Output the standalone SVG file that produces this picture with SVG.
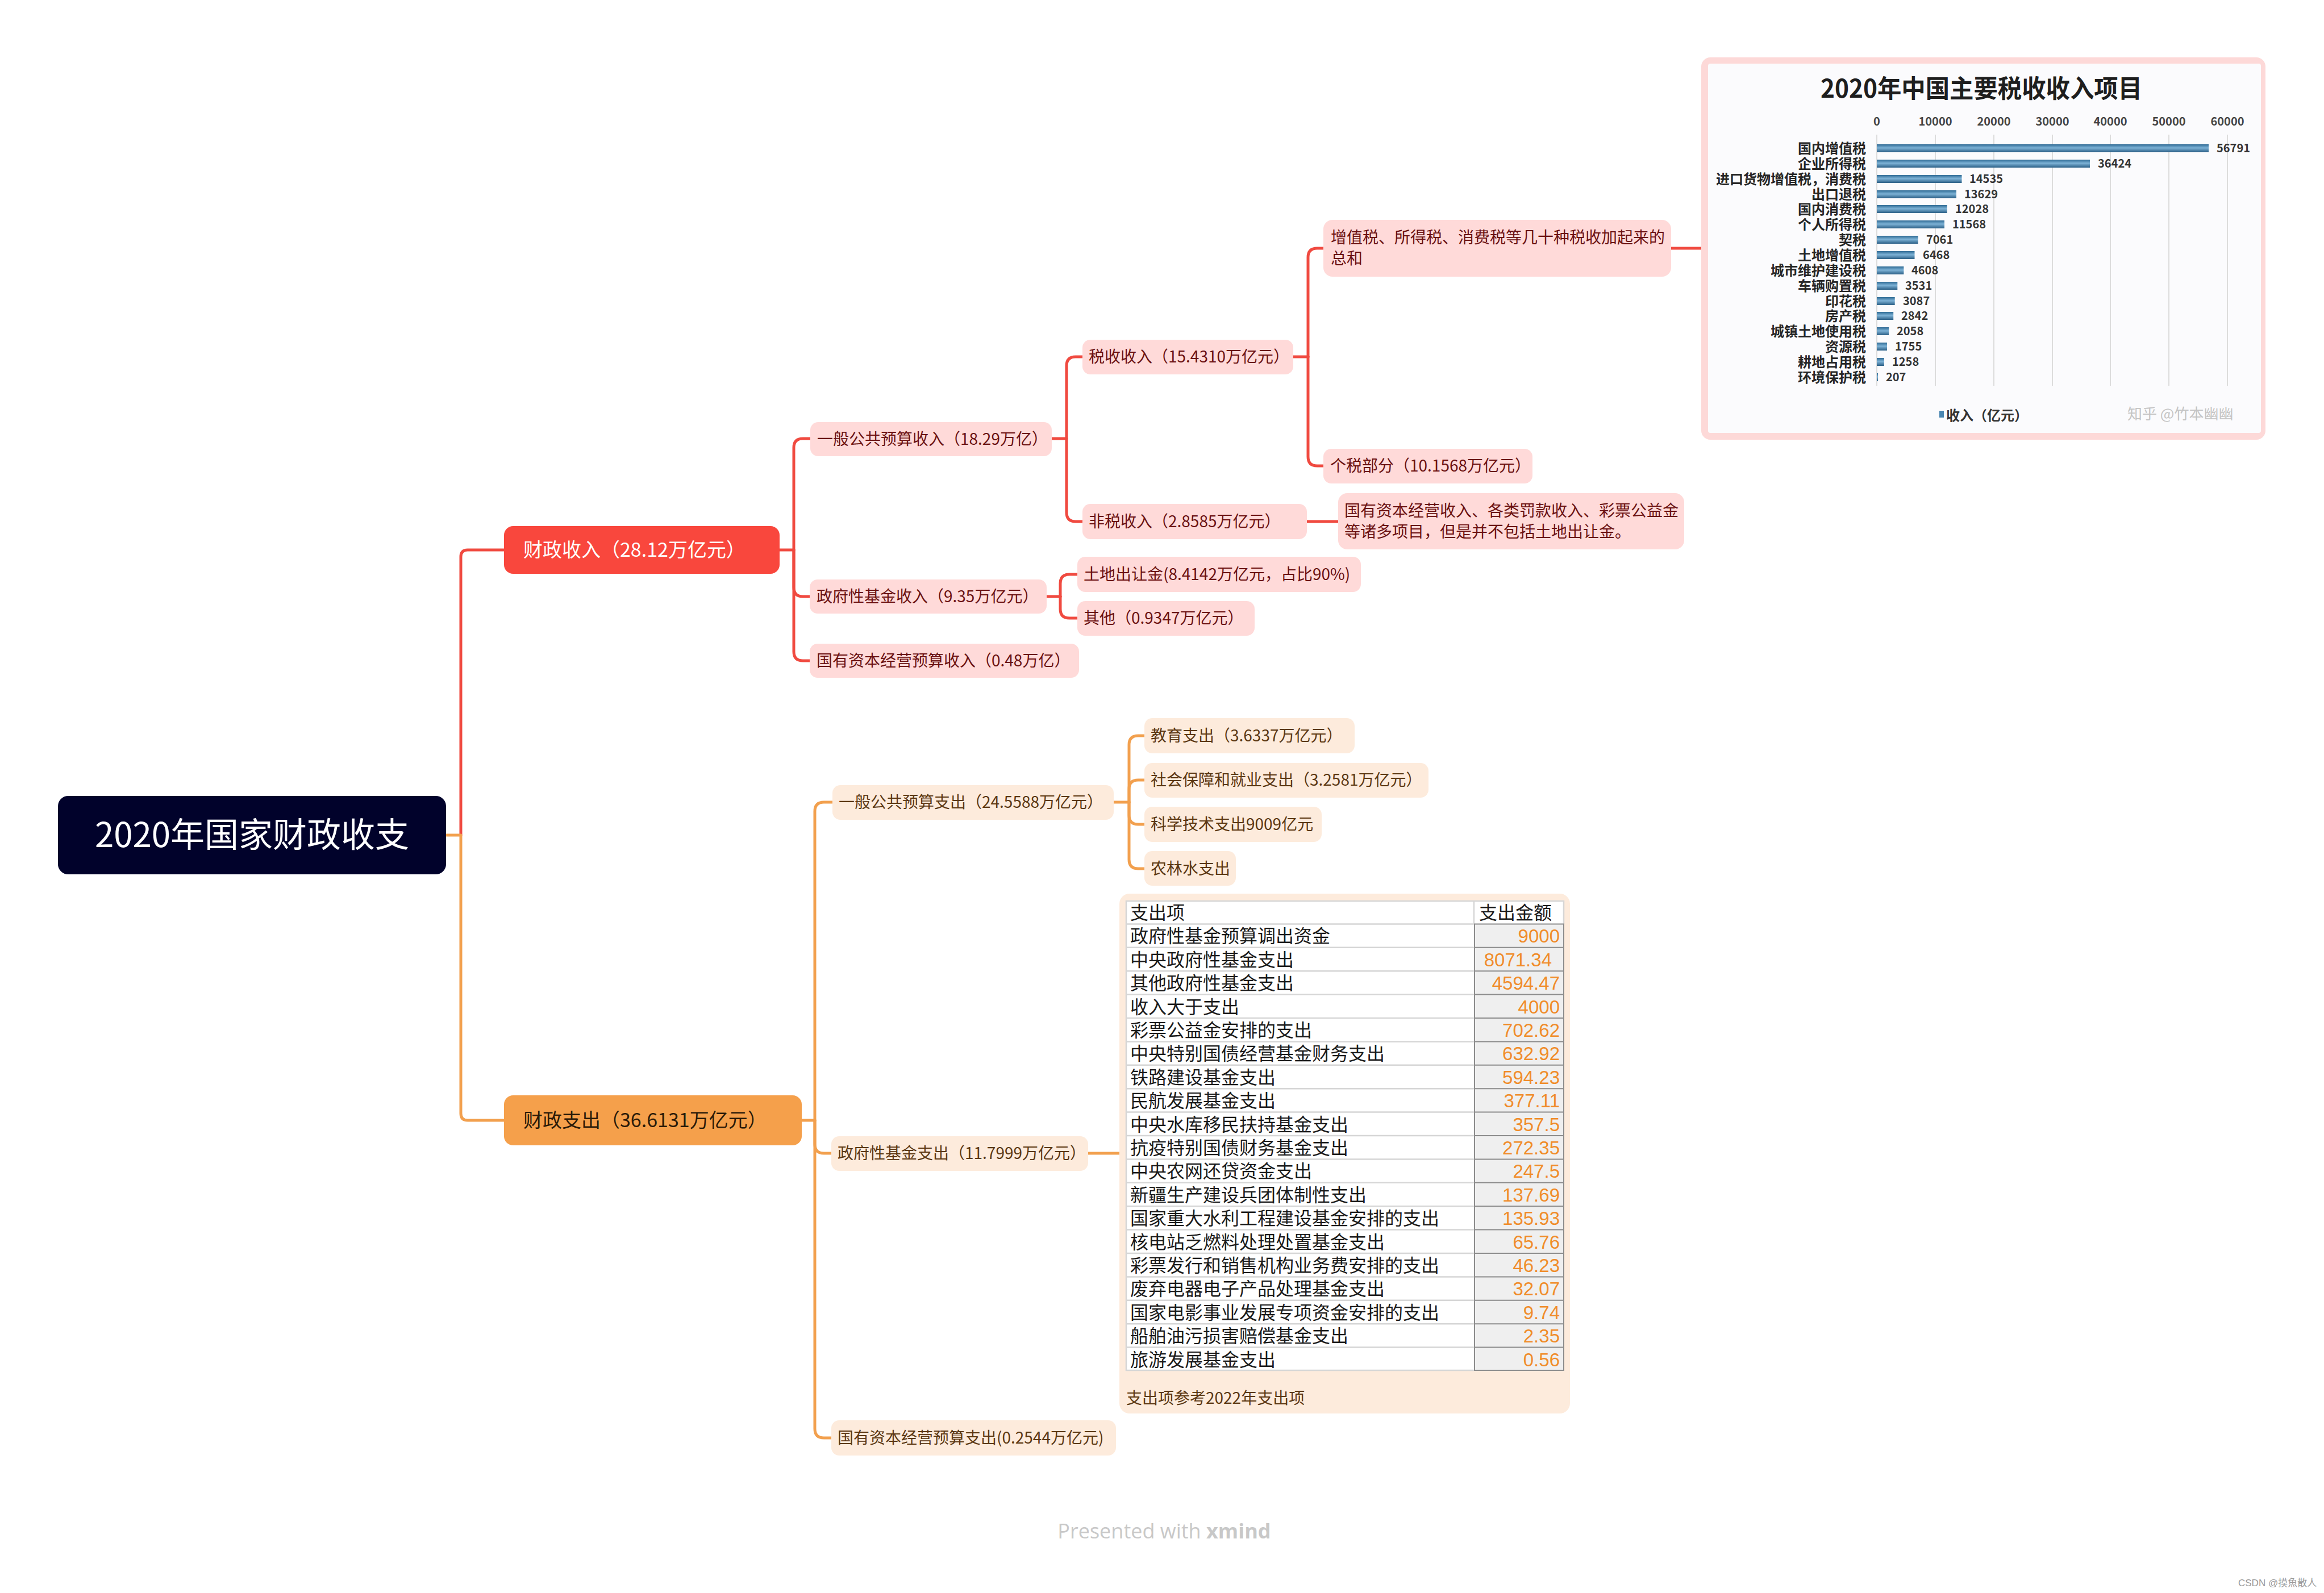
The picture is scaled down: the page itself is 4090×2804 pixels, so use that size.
<svg xmlns="http://www.w3.org/2000/svg" width="4090" height="2804" viewBox="0 0 4090 2804">
<defs>
<style>
.cjk{font-family:"Noto Sans CJK SC","Noto Sans",sans-serif}
.rc{fill:none;stroke:#F04A40;stroke-width:5;stroke-linecap:round;stroke-linejoin:round}
.oc{fill:none;stroke:#F2A04E;stroke-width:5;stroke-linecap:round;stroke-linejoin:round}
.pink{fill:#FFDAD9}
.peach{fill:#FDEBDC}
.tr{font-family:"Noto Sans CJK SC","Noto Sans",sans-serif;font-size:28px;fill:#6B1111}
.to{font-family:"Noto Sans CJK SC","Noto Sans",sans-serif;font-size:28px;fill:#5B3712}
.cl{font-family:"Noto Sans CJK SC",sans-serif;font-size:24px;font-weight:700;fill:#262626;text-anchor:end}
.cv{font-family:"Noto Sans CJK SC",sans-serif;font-size:20px;font-weight:700;fill:#333}
.ax{font-family:"Noto Sans CJK SC",sans-serif;font-size:20px;font-weight:700;fill:#444;text-anchor:middle}
.grid{stroke:#DCDCDC;stroke-width:2}
.bar{fill:url(#barg)}
.tt{font-family:"Noto Sans CJK SC",sans-serif;font-size:32px;fill:#1a1a1a}
.tv{font-family:"Liberation Sans Narrow","Liberation Sans",sans-serif;font-size:33px;fill:#F08C2A;text-anchor:end}
.hl{stroke:#D6D6D6;stroke-width:2.5}
.hd{stroke:#8C8C8C;stroke-width:2}
.wm{font-family:"Open Sans","Liberation Sans",sans-serif;font-size:36px;fill:#C8C8C8}
</style>
<linearGradient id="barg" x1="0" y1="0" x2="0" y2="1">
<stop offset="0" stop-color="#2E6A94"/>
<stop offset="0.45" stop-color="#7DB2D6"/>
<stop offset="1" stop-color="#2B5F86"/>
</linearGradient>
</defs>
<rect x="0" y="0" width="4090" height="2804" fill="#FFFFFF"/>

<g id="connectors">
<path class="rc" d="M811 1470 V980 Q811 968 823 968 H887"/>
<path class="rc" d="M1372 968 H1397"/>
<path class="rc" d="M1397 968 V788 Q1397 772 1413 772 H1426"/>
<path class="rc" d="M1397 968 V1034 Q1397 1050 1413 1050 H1425"/>
<path class="rc" d="M1397 968 V1147 Q1397 1163 1413 1163 H1425"/>
<path class="rc" d="M1851 772 H1877"/>
<path class="rc" d="M1877 772 V644 Q1877 628 1893 628 H1905"/>
<path class="rc" d="M1877 772 V902 Q1877 918 1893 918 H1905"/>
<path class="rc" d="M2276 628 H2302"/>
<path class="rc" d="M2302 628 V453 Q2302 437 2318 437 H2329"/>
<path class="rc" d="M2302 628 V804 Q2302 820 2318 820 H2329"/>
<path class="rc" d="M2300 918 H2355"/>
<path class="rc" d="M2941 437 H2995"/>
<path class="rc" d="M1842 1050 H1866"/>
<path class="rc" d="M1866 1050 V1027 Q1866 1011 1882 1011 H1896"/>
<path class="rc" d="M1866 1050 V1072 Q1866 1088 1882 1088 H1896"/>
<path class="oc" d="M785 1470 H811 V1960 Q811 1972 823 1972 H887"/>
<path class="oc" d="M1411 1972 H1434"/>
<path class="oc" d="M1434 1972 V1428 Q1434 1412 1450 1412 H1465"/>
<path class="oc" d="M1434 1972 V2014 Q1434 2030 1450 2030 H1463"/>
<path class="oc" d="M1434 1972 V2515 Q1434 2531 1450 2531 H1463"/>
<path class="oc" d="M1960 1412 H1987"/>
<path class="oc" d="M1987 1412 V1311 Q1987 1295 2003 1295 H2014"/>
<path class="oc" d="M1987 1412 V1389 Q1987 1373 2003 1373 H2014"/>
<path class="oc" d="M1987 1412 V1435 Q1987 1451 2003 1451 H2014"/>
<path class="oc" d="M1987 1412 V1513 Q1987 1529 2003 1529 H2014"/>
<path class="oc" d="M1915 2030 H1970"/>
</g>

<g id="root">
<rect x="102" y="1401" width="683" height="138" rx="18" fill="#01022B"/>
<text x="443.5" y="1491" class="cjk" font-size="60" fill="#FFFFFF" text-anchor="middle">2020年国家财政收支</text>
</g>

<g id="income">
<rect x="887" y="926" width="485" height="84" rx="16" fill="#F9473D"/>
<text x="921" y="980" class="cjk" font-size="34" fill="#FFFFFF">财政收入（28.12万亿元）</text>
</g>

<g id="expense">
<rect x="887" y="1928" width="524" height="88" rx="16" fill="#F5A04B"/>
<text x="921" y="1984" class="cjk" font-size="34" fill="#2A1A08">财政支出（36.6131万亿元）</text>
</g>

<g id="gen-income">
<rect class="pink" x="1426" y="743" width="425" height="60" rx="14"/>
<text class="tr" x="1438" y="783">一般公共预算收入（18.29万亿）</text>
</g>
<g id="fund-income">
<rect class="pink" x="1425" y="1020" width="417" height="60" rx="14"/>
<text class="tr" x="1437" y="1060">政府性基金收入（9.35万亿元）</text>
</g>
<g id="soe-income">
<rect class="pink" x="1425" y="1133" width="474" height="60" rx="14"/>
<text class="tr" x="1437" y="1173">国有资本经营预算收入（0.48万亿）</text>
</g>
<g id="tax-income">
<rect class="pink" x="1905" y="598" width="371" height="61" rx="14"/>
<text class="tr" x="1916" y="638">税收收入（15.4310万亿元）</text>
</g>
<g id="nontax-income">
<rect class="pink" x="1905" y="887" width="395" height="62" rx="14"/>
<text class="tr" x="1916" y="928">非税收入（2.8585万亿元）</text>
</g>
<g id="tax-sum">
<rect class="pink" x="2329" y="387" width="612" height="100" rx="16"/>
<text class="tr" x="2342" y="428">增值税、所得税、消费税等几十种税收加起来的</text>
<text class="tr" x="2342" y="465">总和</text>
</g>
<g id="personal-tax">
<rect class="pink" x="2329" y="790" width="368" height="61" rx="14"/>
<text class="tr" x="2341" y="830">个税部分（10.1568万亿元）</text>
</g>
<g id="nontax-note">
<rect class="pink" x="2355" y="868" width="609" height="99" rx="16"/>
<text class="tr" x="2366" y="909">国有资本经营收入、各类罚款收入、彩票公益金</text>
<text class="tr" x="2366" y="946">等诸多项目，但是并不包括土地出让金。</text>
</g>
<g id="land">
<rect class="pink" x="1896" y="980" width="499" height="62" rx="14"/>
<text class="tr" x="1907" y="1021">土地出让金(8.4142万亿元，占比90%)</text>
</g>
<g id="other-fund">
<rect class="pink" x="1896" y="1058" width="312" height="61" rx="14"/>
<text class="tr" x="1907" y="1098">其他（0.9347万亿元）</text>
</g>

<g id="tax-chart">
<rect x="2994" y="101" width="993" height="673" rx="16" fill="#FDD9D8"/>
<rect x="3006" y="112" width="973" height="650" rx="4" fill="#FBFBFD"/>
<text x="3204" y="172" class="cjk" font-size="44" font-weight="700" fill="#1E1E1E" textLength="566" lengthAdjust="spacingAndGlyphs">2020年中国主要税收收入项目</text>
<g>
<line class="grid" x1="3303" y1="237" x2="3303" y2="679" stroke="#C8C8C8"/>
<line class="grid" x1="3406" y1="237" x2="3406" y2="679"/>
<line class="grid" x1="3509" y1="237" x2="3509" y2="679"/>
<line class="grid" x1="3612" y1="237" x2="3612" y2="679"/>
<line class="grid" x1="3714" y1="237" x2="3714" y2="679"/>
<line class="grid" x1="3817" y1="237" x2="3817" y2="679"/>
<line class="grid" x1="3920" y1="237" x2="3920" y2="679"/>
</g>
<text class="ax" x="3303" y="221">0</text>
<text class="ax" x="3406" y="221">10000</text>
<text class="ax" x="3509" y="221">20000</text>
<text class="ax" x="3612" y="221">30000</text>
<text class="ax" x="3714" y="221">40000</text>
<text class="ax" x="3817" y="221">50000</text>
<text class="ax" x="3920" y="221">60000</text>

<text class="cl" x="3284" y="270">国内增值税</text>
<text class="cl" x="3284" y="297">企业所得税</text>
<text class="cl" x="3284" y="324">进口货物增值税，消费税</text>
<text class="cl" x="3284" y="351">出口退税</text>
<text class="cl" x="3284" y="377">国内消费税</text>
<text class="cl" x="3284" y="404">个人所得税</text>
<text class="cl" x="3284" y="431">契税</text>
<text class="cl" x="3284" y="458">土地增值税</text>
<text class="cl" x="3284" y="485">城市维护建设税</text>
<text class="cl" x="3284" y="512">车辆购置税</text>
<text class="cl" x="3284" y="539">印花税</text>
<text class="cl" x="3284" y="565">房产税</text>
<text class="cl" x="3284" y="592">城镇土地使用税</text>
<text class="cl" x="3284" y="619">资源税</text>
<text class="cl" x="3284" y="646">耕地占用税</text>
<text class="cl" x="3284" y="673">环境保护税</text>

<rect class="bar" x="3303" y="254" width="584" height="14"/>
<rect class="bar" x="3303" y="281" width="375" height="14"/>
<rect class="bar" x="3303" y="308" width="149.5" height="14"/>
<rect class="bar" x="3303" y="335" width="140" height="14"/>
<rect class="bar" x="3303" y="361" width="123.7" height="14"/>
<rect class="bar" x="3303" y="388" width="119" height="14"/>
<rect class="bar" x="3303" y="415" width="72.6" height="14"/>
<rect class="bar" x="3303" y="442" width="66.5" height="14"/>
<rect class="bar" x="3303" y="469" width="47.4" height="14"/>
<rect class="bar" x="3303" y="496" width="36.3" height="14"/>
<rect class="bar" x="3303" y="523" width="31.7" height="14"/>
<rect class="bar" x="3303" y="549" width="29.2" height="14"/>
<rect class="bar" x="3303" y="576" width="21.2" height="14"/>
<rect class="bar" x="3303" y="603" width="18" height="14"/>
<rect class="bar" x="3303" y="630" width="12.9" height="14"/>
<rect class="bar" x="3303" y="657" width="2.1" height="14"/>

<text class="cv" x="3901" y="268">56791</text>
<text class="cv" x="3692" y="295">36424</text>
<text class="cv" x="3466" y="322">14535</text>
<text class="cv" x="3457" y="349">13629</text>
<text class="cv" x="3441" y="375">12028</text>
<text class="cv" x="3436" y="402">11568</text>
<text class="cv" x="3390" y="429">7061</text>
<text class="cv" x="3384" y="456">6468</text>
<text class="cv" x="3364" y="483">4608</text>
<text class="cv" x="3353" y="510">3531</text>
<text class="cv" x="3349" y="537">3087</text>
<text class="cv" x="3346" y="563">2842</text>
<text class="cv" x="3338" y="590">2058</text>
<text class="cv" x="3335" y="617">1755</text>
<text class="cv" x="3330" y="644">1258</text>
<text class="cv" x="3319" y="671">207</text>

<rect x="3413" y="723" width="8" height="12" fill="#4A86B2"/>
<text x="3425" y="740" class="cjk" font-size="24" font-weight="700" fill="#333">收入（亿元）</text>
<text x="3744" y="738" class="cjk" font-size="26" fill="#C4C4C4">知乎 @竹本幽幽</text>
</g>

<g id="gen-expense">
<rect class="peach" x="1465" y="1382" width="495" height="61" rx="14"/>
<text class="to" x="1476" y="1422">一般公共预算支出（24.5588万亿元）</text>
</g>
<g id="fund-expense">
<rect class="peach" x="1463" y="2000" width="452" height="61" rx="14"/>
<text class="to" x="1474" y="2040">政府性基金支出（11.7999万亿元）</text>
</g>
<g id="soe-expense">
<rect class="peach" x="1463" y="2500" width="501" height="62" rx="14"/>
<text class="to" x="1474" y="2541">国有资本经营预算支出(0.2544万亿元)</text>
</g>
<g id="edu">
<rect class="peach" x="2014" y="1264" width="370" height="62" rx="14"/>
<text class="to" x="2025" y="1305">教育支出（3.6337万亿元）</text>
</g>
<g id="social">
<rect class="peach" x="2014" y="1343" width="500" height="61" rx="14"/>
<text class="to" x="2025" y="1383">社会保障和就业支出（3.2581万亿元）</text>
</g>
<g id="science">
<rect class="peach" x="2014" y="1420" width="312" height="62" rx="14"/>
<text class="to" x="2025" y="1461">科学技术支出9009亿元</text>
</g>
<g id="agri">
<rect class="peach" x="2014" y="1498" width="161" height="61" rx="14"/>
<text class="to" x="2025" y="1539">农林水支出</text>
</g>

<g id="fund-table">
<rect class="peach" x="1970" y="1573" width="793" height="915" rx="18"/>
<rect x="1981" y="1585" width="772" height="828" fill="#FFFFFF"/>
<rect x="2594" y="1626" width="159" height="787" fill="#EFEFEF"/>
<g>
<line class="hl" x1="1981" y1="1586" x2="2753" y2="1586"/>
<line class="hl" x1="1981" y1="1626.4" x2="2594" y2="1626.4"/>
<line class="hl" x1="1981" y1="1667.8" x2="2594" y2="1667.8"/>
<line class="hl" x1="1981" y1="1709.2" x2="2594" y2="1709.2"/>
<line class="hl" x1="1981" y1="1750.6" x2="2594" y2="1750.6"/>
<line class="hl" x1="1981" y1="1792" x2="2594" y2="1792"/>
<line class="hl" x1="1981" y1="1833.4" x2="2594" y2="1833.4"/>
<line class="hl" x1="1981" y1="1874.8" x2="2594" y2="1874.8"/>
<line class="hl" x1="1981" y1="1916.2" x2="2594" y2="1916.2"/>
<line class="hl" x1="1981" y1="1957.6" x2="2594" y2="1957.6"/>
<line class="hl" x1="1981" y1="1999" x2="2594" y2="1999"/>
<line class="hl" x1="1981" y1="2040.4" x2="2594" y2="2040.4"/>
<line class="hl" x1="1981" y1="2081.8" x2="2594" y2="2081.8"/>
<line class="hl" x1="1981" y1="2123.2" x2="2594" y2="2123.2"/>
<line class="hl" x1="1981" y1="2164.6" x2="2594" y2="2164.6"/>
<line class="hl" x1="1981" y1="2206" x2="2594" y2="2206"/>
<line class="hl" x1="1981" y1="2247.4" x2="2594" y2="2247.4"/>
<line class="hl" x1="1981" y1="2288.8" x2="2594" y2="2288.8"/>
<line class="hl" x1="1981" y1="2330.2" x2="2594" y2="2330.2"/>
<line class="hl" x1="1981" y1="2371.6" x2="2594" y2="2371.6"/>
<line class="hl" x1="1981" y1="2412" x2="2594" y2="2412"/>
<line class="hl" x1="1982" y1="1585" x2="1982" y2="2413"/>
<line class="hl" x1="2594" y1="1585" x2="2594" y2="1626"/>
<line class="hl" x1="2752" y1="1585" x2="2752" y2="1626"/>
<line class="hd" x1="2594" y1="1626.4" x2="2753" y2="1626.4"/>
<line class="hd" x1="2594" y1="1667.8" x2="2753" y2="1667.8"/>
<line class="hd" x1="2594" y1="1709.2" x2="2753" y2="1709.2"/>
<line class="hd" x1="2594" y1="1750.6" x2="2753" y2="1750.6"/>
<line class="hd" x1="2594" y1="1792" x2="2753" y2="1792"/>
<line class="hd" x1="2594" y1="1833.4" x2="2753" y2="1833.4"/>
<line class="hd" x1="2594" y1="1874.8" x2="2753" y2="1874.8"/>
<line class="hd" x1="2594" y1="1916.2" x2="2753" y2="1916.2"/>
<line class="hd" x1="2594" y1="1957.6" x2="2753" y2="1957.6"/>
<line class="hd" x1="2594" y1="1999" x2="2753" y2="1999"/>
<line class="hd" x1="2594" y1="2040.4" x2="2753" y2="2040.4"/>
<line class="hd" x1="2594" y1="2081.8" x2="2753" y2="2081.8"/>
<line class="hd" x1="2594" y1="2123.2" x2="2753" y2="2123.2"/>
<line class="hd" x1="2594" y1="2164.6" x2="2753" y2="2164.6"/>
<line class="hd" x1="2594" y1="2206" x2="2753" y2="2206"/>
<line class="hd" x1="2594" y1="2247.4" x2="2753" y2="2247.4"/>
<line class="hd" x1="2594" y1="2288.8" x2="2753" y2="2288.8"/>
<line class="hd" x1="2594" y1="2330.2" x2="2753" y2="2330.2"/>
<line class="hd" x1="2594" y1="2371.6" x2="2753" y2="2371.6"/>
<line class="hd" x1="2594" y1="2412" x2="2753" y2="2412"/>
<line class="hd" x1="2595" y1="1626" x2="2595" y2="2413"/>
<line class="hd" x1="2752" y1="1626" x2="2752" y2="2413"/>
</g>
<text class="tt" x="1989" y="1618">支出项</text>
<text class="tt" x="2603" y="1618">支出金额</text>
<text class="tt" x="1989" y="1659">政府性基金预算调出资金</text>
<text class="tt" x="1989" y="1701">中央政府性基金支出</text>
<text class="tt" x="1989" y="1742">其他政府性基金支出</text>
<text class="tt" x="1989" y="1784">收入大于支出</text>
<text class="tt" x="1989" y="1825">彩票公益金安排的支出</text>
<text class="tt" x="1989" y="1866">中央特别国债经营基金财务支出</text>
<text class="tt" x="1989" y="1908">铁路建设基金支出</text>
<text class="tt" x="1989" y="1949">民航发展基金支出</text>
<text class="tt" x="1989" y="1991">中央水库移民扶持基金支出</text>
<text class="tt" x="1989" y="2032">抗疫特别国债财务基金支出</text>
<text class="tt" x="1989" y="2073">中央农网还贷资金支出</text>
<text class="tt" x="1989" y="2115">新疆生产建设兵团体制性支出</text>
<text class="tt" x="1989" y="2156">国家重大水利工程建设基金安排的支出</text>
<text class="tt" x="1989" y="2198">核电站乏燃料处理处置基金支出</text>
<text class="tt" x="1989" y="2239">彩票发行和销售机构业务费安排的支出</text>
<text class="tt" x="1989" y="2280">废弃电器电子产品处理基金支出</text>
<text class="tt" x="1989" y="2322">国家电影事业发展专项资金安排的支出</text>
<text class="tt" x="1989" y="2363">船舶油污损害赔偿基金支出</text>
<text class="tt" x="1989" y="2405">旅游发展基金支出</text>
<text class="tv" x="2745" y="1659">9000</text>
<text class="tv" x="2731" y="1701">8071.34</text>
<text class="tv" x="2745" y="1742">4594.47</text>
<text class="tv" x="2745" y="1784">4000</text>
<text class="tv" x="2745" y="1825">702.62</text>
<text class="tv" x="2745" y="1866">632.92</text>
<text class="tv" x="2745" y="1908">594.23</text>
<text class="tv" x="2745" y="1949">377.11</text>
<text class="tv" x="2745" y="1991">357.5</text>
<text class="tv" x="2745" y="2032">272.35</text>
<text class="tv" x="2745" y="2073">247.5</text>
<text class="tv" x="2745" y="2115">137.69</text>
<text class="tv" x="2745" y="2156">135.93</text>
<text class="tv" x="2745" y="2198">65.76</text>
<text class="tv" x="2745" y="2239">46.23</text>
<text class="tv" x="2745" y="2280">32.07</text>
<text class="tv" x="2745" y="2322">9.74</text>
<text class="tv" x="2745" y="2363">2.35</text>
<text class="tv" x="2745" y="2405">0.56</text>
<text class="to" x="1982" y="2471">支出项参考2022年支出项</text>
</g>

<text class="wm" x="2049" y="2708" text-anchor="middle">Presented with <tspan font-weight="700">xmind</tspan></text>
<text x="3939" y="2792" font-family="'Liberation Sans','Noto Sans CJK SC',sans-serif" font-size="17" fill="#9A9A9A">CSDN @摸魚散人</text>
</svg>
